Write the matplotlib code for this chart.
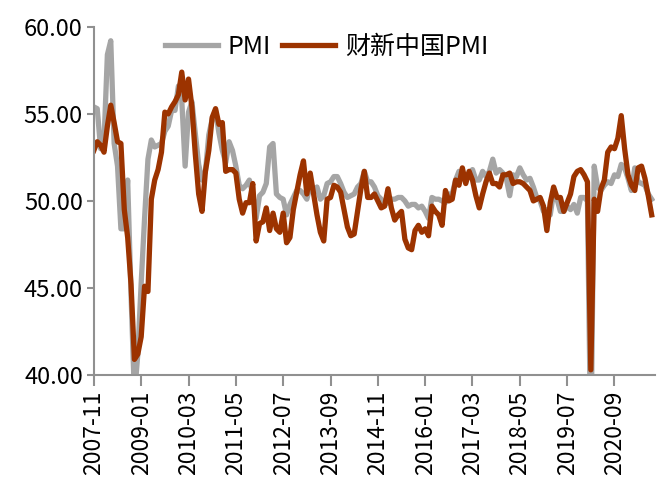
import matplotlib
matplotlib.use("Agg")
import matplotlib.pyplot as plt

plt.rcParams['font.family'] = ['Noto Sans CJK SC', 'DejaVu Sans']

# monthly readings, 2007-11 .. 2021-08
pmi = [
    55.4, 55.3,
    53.0, 53.4, 58.4, 59.2, 53.3, 52.0, 48.4, 48.4, 51.2, 44.6, 38.8, 41.2,
    45.3, 49.0, 52.4, 53.5, 53.1, 53.2, 53.3, 54.0, 54.3, 55.2, 55.2, 56.6,
    55.8, 52.0, 55.1, 55.7, 53.9, 52.1, 51.2, 51.7, 53.8, 54.7, 55.2, 53.9,
    52.9, 52.2, 53.4, 52.9, 52.0, 50.9, 50.7, 50.9, 51.2, 50.4, 49.0, 50.3,
    50.5, 51.0, 53.1, 53.3, 50.4, 50.2, 50.1, 49.2, 49.8, 50.2, 50.6, 50.6,
    50.4, 50.1, 50.9, 50.6, 50.8, 50.1, 50.3, 51.0, 51.1, 51.4, 51.4, 51.0,
    50.5, 50.2, 50.3, 50.4, 50.8, 51.0, 51.7, 51.1, 51.1, 50.8, 50.3, 50.1,
    49.8, 49.9, 50.1, 50.1, 50.2, 50.2, 50.0, 49.7, 49.8, 49.8, 49.6, 49.7,
    49.4, 49.0, 50.2, 50.1, 50.1, 50.0, 49.9, 50.4, 50.4, 51.2, 51.7, 51.4,
    51.3, 51.6, 51.8, 51.2, 51.2, 51.7, 51.4, 51.7, 52.4, 51.6, 51.8, 51.6,
    51.3, 50.3, 51.5, 51.4, 51.9, 51.5, 51.2, 51.3, 50.8, 50.2, 50.0, 49.4,
    49.5, 49.2, 50.5, 50.1, 49.4, 49.4, 49.7, 49.5, 49.8, 49.3, 50.2, 50.2,
    50.0, 35.7, 52.0, 50.8, 50.6, 50.9, 51.1, 51.0, 51.5, 51.4, 52.1, 51.9,
    51.3, 50.6, 51.9, 51.1, 51.0, 50.9, 50.4, 50.1,
]
caixin_pmi = [
    52.9, 53.4,
    53.2, 52.8, 54.3, 55.5, 54.5, 53.4, 53.3, 49.5, 47.9, 45.2, 40.9, 41.2,
    42.2, 45.1, 44.8, 50.1, 51.2, 51.8, 52.8, 55.1, 55.0, 55.4, 55.7, 56.1,
    57.4, 55.8, 57.0, 55.4, 52.7, 50.4, 49.4, 51.7, 52.9, 54.8, 55.3, 54.4,
    54.5, 51.7, 51.8, 51.8, 51.6, 50.1, 49.3, 49.9, 49.9, 51.0, 47.7, 48.7,
    48.8, 49.6, 48.3, 49.3, 48.4, 48.2, 49.3, 47.6, 47.9, 49.5, 50.5, 51.5,
    52.3, 50.4, 51.6, 50.4, 49.2, 48.2, 47.7, 50.1, 50.2, 50.9, 50.8, 50.5,
    49.5, 48.5, 48.0, 48.1, 49.4, 50.7, 51.7, 50.2, 50.2, 50.4, 50.0, 49.6,
    49.7, 50.7, 49.6, 48.9, 49.2, 49.4, 47.8, 47.3, 47.2, 48.3, 48.6, 48.2,
    48.4, 48.0, 49.7, 49.4, 49.2, 48.6, 50.6, 50.0, 50.1, 51.2, 50.9, 51.9,
    51.0, 51.7, 51.2, 50.3, 49.6, 50.4, 51.1, 51.6, 51.0, 51.0, 50.8, 51.5,
    51.5, 51.6, 51.0, 51.1, 51.1, 51.0, 50.8, 50.6, 50.0, 50.1, 50.2, 49.7,
    48.3, 49.9, 50.8, 50.2, 50.2, 49.4, 49.9, 50.4, 51.4, 51.7, 51.8, 51.5,
    51.1, 40.3, 50.1, 49.4, 50.7, 51.2, 52.8, 53.1, 53.0, 53.6, 54.9, 53.0,
    51.5, 50.9, 50.6, 51.9, 52.0, 51.3, 50.3, 49.2,
]
tick_labels = ['2007-11', '2009-01', '2010-03', '2011-05', '2012-07', '2013-09',
               '2014-11', '2016-01', '2017-03', '2018-05', '2019-07', '2020-09']
tick_step = 14


def main():
    fig = plt.figure(figsize=(6.61, 4.79), dpi=100)
    ax = fig.add_axes([0.142, 0.217, 0.849, 0.727])

    x = range(len(pmi))
    ax.plot(x, pmi, color='#a5a5a5', lw=3.8, label='PMI', solid_joinstyle='round')
    ax.plot(x, caixin_pmi, color='#9c3300', lw=3.8, label='财新中国PMI', solid_joinstyle='round')

    ax.set_ylim(40, 60)
    ax.set_xlim(0, 166)
    ax.set_yticks([40, 45, 50, 55, 60])
    ax.set_yticklabels(['%.2f' % v for v in [40, 45, 50, 55, 60]], fontsize=17)
    ax.set_xticks([i * tick_step for i in range(len(tick_labels))])
    ax.set_xticklabels(tick_labels, rotation=90, fontsize=16.5)

    for side in ['top', 'right']:
        ax.spines[side].set_visible(False)
    for side in ['left', 'bottom']:
        ax.spines[side].set_color('#909090')
        ax.spines[side].set_linewidth(1.5)
    ax.tick_params(axis='y', length=5, width=1.5, color='#909090', pad=3)
    ax.tick_params(axis='x', length=8, width=1.5, color='#909090', pad=3)

    ax.legend(loc='center left', bbox_to_anchor=(0.127, 0.943), ncol=2,
              frameon=False, fontsize=18, handlelength=2.1, handletextpad=0.4,
              columnspacing=0.45, borderpad=0, borderaxespad=0)

    fig.savefig('out.png', dpi=100)


if __name__ == '__main__':
    main()
